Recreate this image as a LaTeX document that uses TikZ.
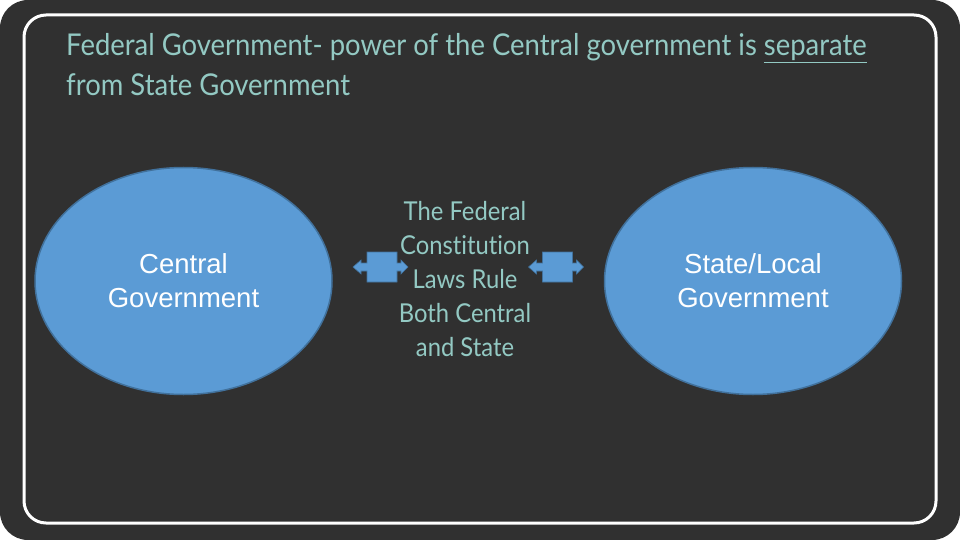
\documentclass[tikz,border=0pt]{standalone}
\usepackage{fontspec}
\setmainfont{Liberation Sans}
\newfontfamily\abel[FakeStretch=0.915,Ligatures=NoCommon]{Lato}
\usetikzlibrary{shapes.geometric}
\definecolor{board}{HTML}{303030}
\definecolor{chalk}{HTML}{93C9C3}
\definecolor{bluefill}{HTML}{5B9BD5}
\definecolor{blueedge}{HTML}{41719C}
\tikzset{
  govt/.style={ellipse, fill=bluefill, draw=blueedge, line width=1.5pt,
    minimum width=297pt, minimum height=227pt, inner sep=0pt,
    text=white, align=center, font=\fontsize{27.5}{34}\selectfont},
  chalktext/.style={text=chalk, inner sep=0pt},
  dblarrow/.style={fill=bluefill, draw=blueedge, line width=0.6pt}
}
\begin{document}
\begin{tikzpicture}[x=1pt,y=-1pt]
\useasboundingbox (0,0) rectangle (960,540);
\fill[white] (0,0) rectangle (960,540);
\fill[board, rounded corners=28pt] (0,0) rectangle (960,540);
\draw[white, line width=3pt, rounded corners=22pt] (24,15) rectangle (936,523);
% title
\node[chalktext, anchor=base west, font=\abel\fontsize{30}{40}\selectfont] (title1) at (66,56)
  {Federal Government- power of the Central government is \underline{separate}};
\node[chalktext, anchor=base west, font=\abel\fontsize{30}{40}\selectfont] (title2) at (66,96)
  {from State Government};
% ellipses
\node[govt] (central) at (183.5,281) {Central\\Government};
\node[govt] (state) at (753,281) {State/Local\\Government};
% middle text
\node[chalktext, align=center, font=\abel\fontsize{26}{34}\selectfont] (fed) at (465,279)
  {The Federal\\Constitution\\Laws Rule\\Both Central\\and State};
% double arrows
\foreach \dx/\nm in {0/arrL, 175.5/arrR}{
  \begin{scope}[xshift=\dx pt]
  \draw[dblarrow] (353,267) -- (361,260) -- (361,263) -- (367,263) -- (367,252)
    -- (397,252) -- (397,263) -- (401,263) -- (401,260) -- (408,267) -- (401,274)
    -- (401,271) -- (397,271) -- (397,282) -- (367,282) -- (367,271) -- (361,271)
    -- (361,274) -- cycle;
  \coordinate (\nm) at (380,267);
  \end{scope}
}
\end{tikzpicture}
\end{document}
